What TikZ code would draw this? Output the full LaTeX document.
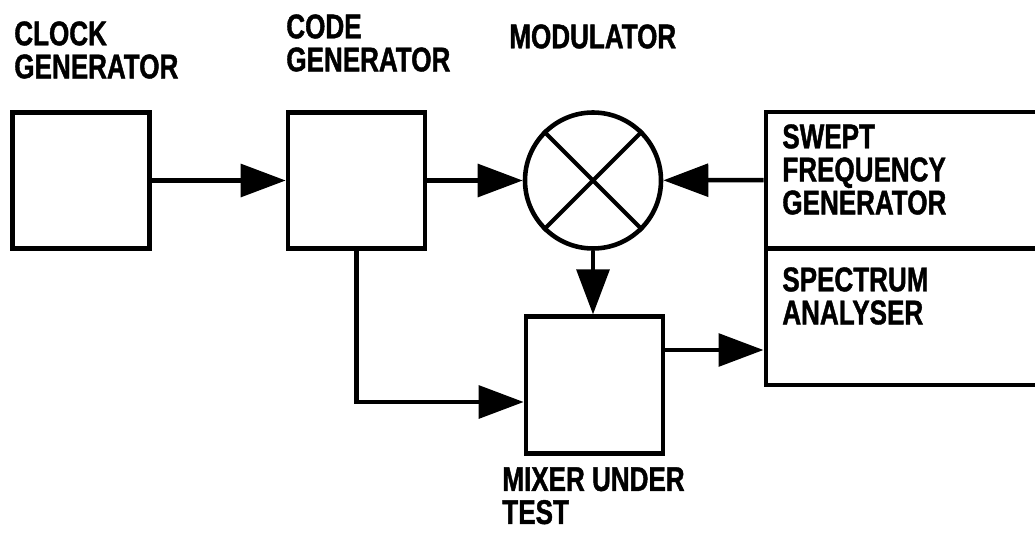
\documentclass[tikz,border=0pt]{standalone}
\usepackage{fontspec}
\newfontfamily\plotfont[FakeStretch=0.76, BoldFeatures={FakeBold=1.2}]{Liberation Sans}
\usetikzlibrary{arrows.meta,positioning,calc}

\begin{document}
\begin{tikzpicture}[
    blk/.style={rectangle, draw, line width=2.6pt, minimum width=27.4mm,
                minimum height=27.3mm, inner sep=0pt},
    lbl/.style={align=left, inner sep=0pt, anchor=north west,
                font=\plotfont\bfseries\fontsize{19.5}{18.8}\selectfont},
    arr/.style={-{Triangle[length=9mm,width=6.5mm]}, line width=2.6pt}
  ]
  \useasboundingbox (0,0) rectangle (20.7,-10.68);

  \node[blk] (clock) at (1.62,-3.61) {};
  \node[blk] (code)  at (7.13,-3.61) {};
  \node[circle, draw, line width=2.6pt, minimum size=27.2mm, inner sep=0pt] (mod) at (11.86,-3.61) {};
  \draw[line width=2.4pt] (mod.45) -- (mod.225) (mod.135) -- (mod.315);
  \node[blk, anchor=north west, minimum width=60mm] (swept) at (15.27,-2.19) {};
  \node[blk, minimum width=60mm, below=-2.6pt of swept] (spec) {};
  \node[blk] (mixer) at (11.89,-7.70) {};

  % labels
  \node[lbl] (clocklbl) at (0.28,-0.42)  {CLOCK\\GENERATOR};
  \node[lbl] (codelbl)  at (5.72,-0.28)  {CODE\\GENERATOR};
  \node[lbl] (modlbl)   at (10.18,-0.48) {MODULATOR};
  \node[lbl] (sweptlbl) at (15.64,-2.48) {SWEPT\\FREQUENCY\\GENERATOR};
  \node[lbl] (speclbl)  at (15.64,-5.34) {SPECTRUM\\ANALYSER};
  \node[lbl] (mixerlbl) at (10.04,-9.34) {MIXER UNDER\\TEST};

  \draw[arr] (clock) -- (code);
  \draw[arr] (code) -- (mod);
  \draw[arr] (swept.west) -- (mod);
  \draw[arr] (mod.south) -- (mod.south |- mixer.north);
  \draw[arr] (code.south) |- ([yshift=-3.4mm]mixer.west);
  \draw[arr] ([yshift=7mm]mixer.east) -- ([yshift=7mm]mixer.east -| spec.west);
\end{tikzpicture}
\end{document}
